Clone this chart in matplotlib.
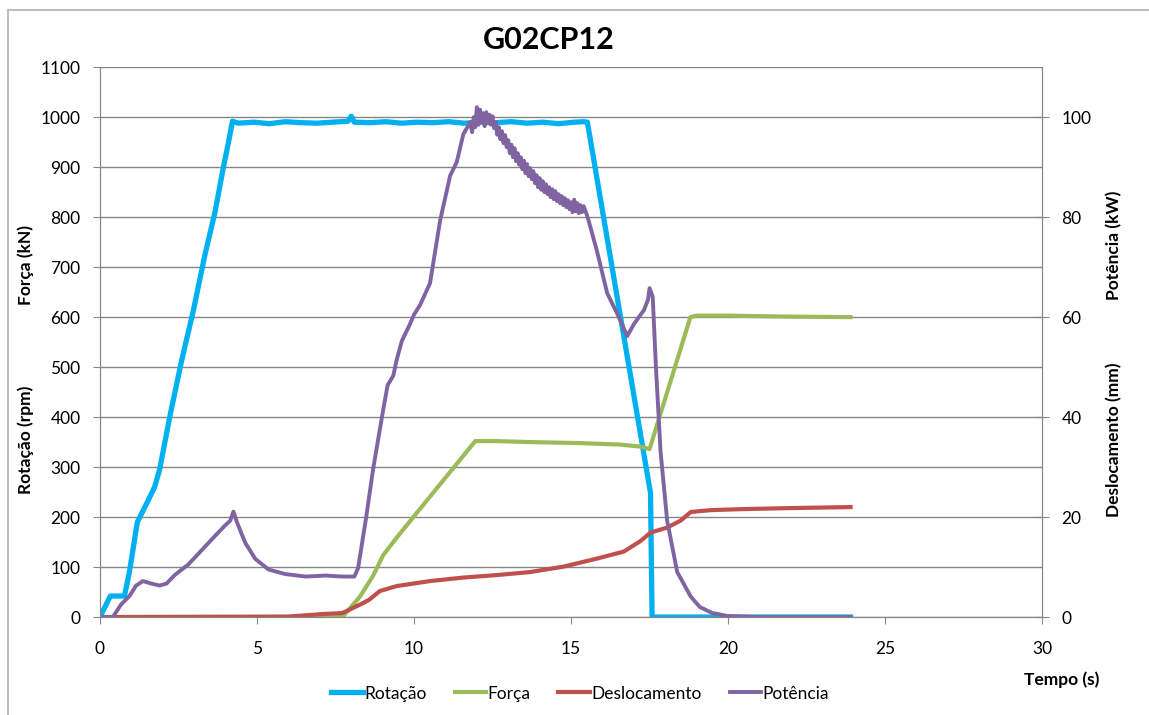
import matplotlib
matplotlib.use("Agg")
import matplotlib.pyplot as plt
from matplotlib.lines import Line2D

plt.rcParams["font.family"] = ["Lato", "DejaVu Sans"]

# Rotação (rpm)
rot_t = [0, 0.33, 0.78, 0.94, 1.19, 1.47, 1.74, 1.90, 2.22, 2.60, 2.97, 3.34,
         3.66, 3.93, 4.09, 4.22, 4.4, 4.9, 5.4, 5.9, 6.4, 6.9, 7.4, 7.9, 8.0,
         8.1, 8.6, 9.1, 9.6, 10.1, 10.6, 11.1, 11.6, 12.1, 12.6, 13.1, 13.6,
         14.1, 14.6, 15.1, 15.4, 15.52, 17.53, 17.58, 23.9]
rot_v = [0, 42, 42, 91, 190, 225, 260, 295, 400, 513, 612, 724,
         809, 900, 949, 992, 988, 990, 987, 991, 989, 988, 990, 992, 1002,
         990, 989, 991, 988, 990, 989, 991, 988, 990, 989, 991, 988,
         990, 987, 990, 991, 990, 248, 0, 0]

# Força (kN)
forca_t = [0, 7.72, 8.28, 8.70, 9.02, 9.45, 10.51, 11.95, 12.64, 13.70, 15.3,
           16.57, 17.2, 17.5, 18.8, 19.0, 20.0, 22.0, 23.9]
forca_v = [0, 0, 41, 83, 124, 159, 241, 352, 352, 350, 348,
           345, 341, 336, 600, 603, 603, 601, 600]

# Deslocamento (mm)
desl_t = [0, 6.0, 7.08, 7.72, 8.15, 8.38, 8.58, 8.91, 9.45, 10.51, 11.57,
          12.64, 13.70, 14.77, 15.83, 16.68, 17.21, 17.53, 18.06, 18.49,
          18.81, 19.1, 19.5, 20.5, 22.0, 23.9]
desl_v = [0, 0.1, 0.6, 0.8, 2.1, 2.8, 3.5, 5.2, 6.2, 7.2, 7.9,
          8.4, 9.0, 10.1, 11.7, 13.1, 15.2, 16.9, 17.9, 19.3,
          21.0, 21.2, 21.4, 21.6, 21.8, 22.0]

# Potência (kW)
pot_t = [0, 0.41, 0.67, 0.94, 1.15, 1.37, 1.63, 1.9, 2.12, 2.38, 2.81, 3.24,
         3.66, 3.98, 4.15, 4.25, 4.36, 4.63, 4.95, 5.37, 5.9, 6.55, 7.19,
         7.72, 8.1, 8.22, 8.47, 8.70, 9.0, 9.16, 9.34, 9.45, 9.61, 9.87,
         10.0, 10.19, 10.35, 10.51, 10.83, 11.15, 11.36, 11.57, 11.79,
         11.85, 11.9, 11.95, 12.0, 12.05, 12.1, 12.15, 12.2, 12.25, 12.3,
         12.35, 12.4, 12.45, 12.5, 12.55, 12.6, 12.65, 12.7, 12.75, 12.8,
         12.85, 12.9, 12.95, 13.0, 13.05, 13.1, 13.15, 13.2, 13.25, 13.3,
         13.35, 13.4, 13.45, 13.5, 13.55, 13.6, 13.65, 13.7, 13.75, 13.8,
         13.85, 13.9, 13.95, 14.0, 14.05, 14.1, 14.15, 14.2, 14.25, 14.3,
         14.35, 14.4, 14.45, 14.5, 14.55, 14.6, 14.65, 14.7, 14.75, 14.8,
         14.85, 14.9, 14.95, 15.0, 15.05, 15.1, 15.15, 15.2, 15.25, 15.3,
         15.35, 15.4, 15.5, 15.56, 15.83, 16.15, 16.47, 16.79, 17.0, 17.32,
         17.45, 17.5, 17.6, 17.7, 17.85, 18.06, 18.38, 18.81, 19.1, 19.5,
         20.0, 21.0, 23.9]
pot_v = [0, 0, 2.5, 4.2, 6.3, 7.2, 6.7, 6.3, 6.7, 8.4, 10.5, 13.4,
         16.2, 18.3, 19.3, 21.1, 19.0, 14.8, 11.6, 9.5, 8.6, 8.1, 8.3,
         8.1, 8.1, 9.8, 19.7, 29.7, 40.8, 46.4, 48.3, 51.5, 55.2, 58.6,
         60.5, 62.4, 64.6, 66.8, 79.3, 88.3, 91.0, 96.6, 99.0,
         97.0, 100.0, 98.0, 102.0, 98.5, 101.5, 99.0, 100.8, 98.2, 101.0,
         98.8, 100.5, 98.5, 100.2, 97.8, 99.0, 96.5, 98.0, 95.6, 97.2,
         94.8, 96.4, 94.0, 95.4, 92.8, 94.5, 92.0, 93.8, 91.2, 92.8,
         90.5, 92.0, 89.6, 91.3, 88.8, 90.6, 88.2, 89.8, 87.6, 89.2,
         86.8, 88.4, 86.0, 87.8, 85.5, 87.2, 85.0, 86.6, 84.6, 86.0,
         84.0, 85.6, 83.6, 85.2, 83.2, 84.6, 82.8, 84.2, 82.4, 83.8,
         82.0, 83.4, 81.6, 83.0, 81.0, 83.5, 81.2, 82.8, 80.8, 82.4,
         81.0, 82.2, 80.5, 79.3, 73.1, 64.8, 60.7, 56.2, 58.6, 61.4,
         63.5, 65.8, 64.1, 50.3, 33.1, 19.3, 9.0, 4.1, 2.0, 0.8,
         0.2, 0, 0]

C_ROT = "#00B0F0"
C_FOR = "#9BBB59"
C_DES = "#C0504D"
C_POT = "#8064A2"
GRID = "#868686"

fig = plt.figure(figsize=(11.49, 7.15), dpi=100)
ax = fig.add_axes([0.087, 0.137, 0.820, 0.769])
ax2 = ax.twinx()

l1, = ax.plot(rot_t, rot_v, color=C_ROT, lw=3.8, label="Rotação")
l2, = ax.plot(forca_t, forca_v, color=C_FOR, lw=3.0, label="Força")
l3, = ax2.plot(desl_t, desl_v, color=C_DES, lw=3.0, label="Deslocamento")
l4, = ax2.plot(pot_t, pot_v, color=C_POT, lw=2.8, label="Potência")

ax.set_xlim(0, 30)
ax.set_ylim(0, 1100)
ax2.set_ylim(0, 110)
ax.set_xticks(range(0, 31, 5))
ax.set_yticks(range(0, 1101, 100))
ax2.set_yticks(range(0, 101, 20))

ax.yaxis.grid(True, color=GRID, lw=1)
ax.set_axisbelow(True)
for a in (ax, ax2):
    a.spines["top"].set_visible(False)
    for s in ("left", "right", "bottom"):
        a.spines[s].set_color(GRID)
ax.tick_params(axis="x", direction="out", length=5, color=GRID, pad=12,
               labelsize=12.5)
ax.tick_params(axis="y", direction="out", length=5, color=GRID, pad=9,
               labelsize=12.5)
ax2.tick_params(axis="y", direction="inout", length=10, color=GRID, pad=9,
                labelsize=12.5)

fig.text(0.478, 0.944, "G02CP12", ha="center", va="center", fontsize=22,
         fontweight="bold")
fig.text(0.022, 0.629, "Força (kN)", rotation=90, ha="center", va="center",
         fontsize=12.5, fontweight="bold")
fig.text(0.022, 0.385, "Rotação (rpm)", rotation=90, ha="center", va="center",
         fontsize=12.5, fontweight="bold")
fig.text(0.970, 0.657, "Potência (kW)", rotation=90, ha="center", va="center",
         fontsize=12.5, fontweight="bold")
fig.text(0.970, 0.385, "Deslocamento (mm)", rotation=90, ha="center",
         va="center", fontsize=12.5, fontweight="bold")
fig.text(0.924, 0.050, "Tempo (s)", ha="center", va="center", fontsize=12.5,
         fontweight="bold")

fig.legend(handles=[l1, l2, l3, l4], loc="center", bbox_to_anchor=(0.505, 0.030),
           ncol=4, frameon=False, fontsize=12.5, handlelength=1.8,
           handletextpad=0.1, columnspacing=1.6)

# chart frame: only top and left edges fall inside the picture
fig.lines.append(Line2D([0.007, 1.0], [0.986, 0.986], transform=fig.transFigure,
                        color="#BFBFBF", lw=1.5))
fig.lines.append(Line2D([0.007, 0.007], [0.0, 0.986], transform=fig.transFigure,
                        color="#BFBFBF", lw=1.5))

fig.savefig("out.png", dpi=100)
